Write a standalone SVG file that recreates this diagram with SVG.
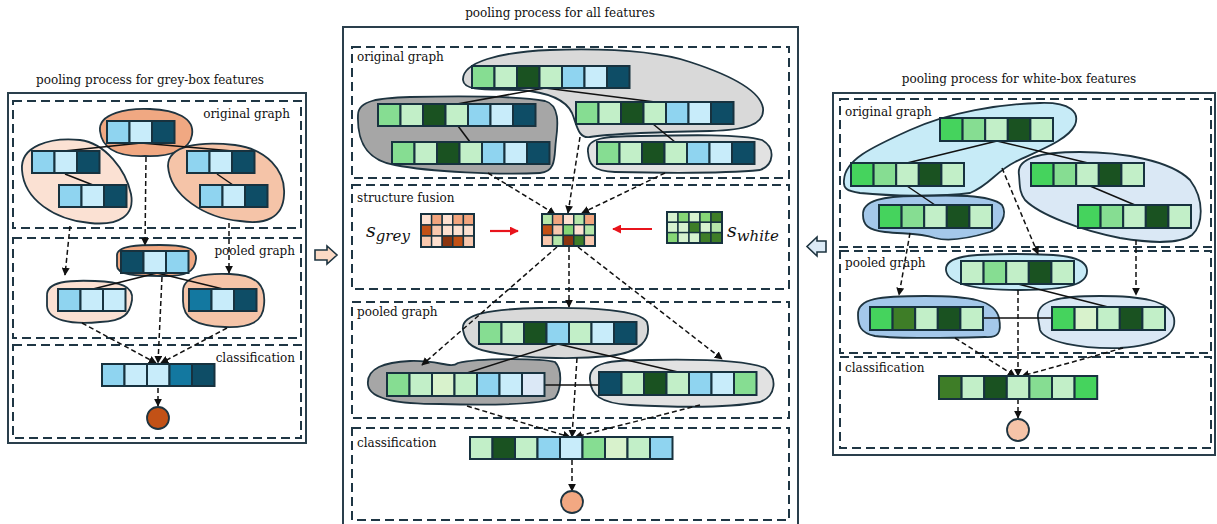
<svg xmlns="http://www.w3.org/2000/svg" xmlns:xlink="http://www.w3.org/1999/xlink" width="1217" height="524" viewBox="0 0 1217 524">
  <style>
    .title { font-family: "DejaVu Serif", "Liberation Serif", serif; font-size: 12px; fill: #111; }
    .lbl { font-family: "DejaVu Serif", "Liberation Serif", serif; font-size: 12px; fill: #111; }
    .math { font-family: "DejaVu Serif", "Liberation Serif", serif; font-style: italic; fill: #111; }
    .panel { fill: none; stroke: #2a3f4c; stroke-width: 2; }
    .box { fill: none; stroke: #1f3644; stroke-width: 2; stroke-dasharray: 9 5; }
    .blob { stroke: #1e3440; stroke-width: 1.8; }
    .c { stroke: #17323f; stroke-width: 2; }
    .m { stroke: #17323f; stroke-width: 1.4; }
    .edge { stroke: #111; stroke-width: 1.5; fill: none; }
    .flow { stroke: #111; stroke-width: 1.5; fill: none; stroke-dasharray: 5 3; marker-end: url(#ah); }
    .red { stroke: #e8141c; stroke-width: 2.2; fill: none; marker-end: url(#ahr); }
    .b1 { fill: #8fd4f0; } .b2 { fill: #c8ecfa; } .b3 { fill: #0e4d66; } .b4 { fill: #1378a0; } .bx { fill: #dbe8f6; }
    .g1 { fill: #86dd92; } .g2 { fill: #c2efc8; } .g3 { fill: #1a5221; } .g4 { fill: #45d35d; } .g5 { fill: #3e7d27; } .g6 { fill: #d8f2cc; }
    .o1 { fill: #fde0d0; } .o2 { fill: #f2a57e; } .o3 { fill: #c25116; } .o4 { fill: #f8c8ae; } .o5 { fill: #8a3510; }
    .w1 { fill: #b5e6a8; } .w2 { fill: #86d676; } .w3 { fill: #3e7d27; } .w4 { fill: #d6f2cf; }
    .pDark { fill: #f0a882; } .pMid { fill: #f5c4a8; } .pLight { fill: #fbe1d3; }
    .gDark { fill: #a6a6a6; } .gMid { fill: #d9d9d9; } .gLight { fill: #e2e2e2; }
    .uSky { fill: #c7ebf7; } .uMid { fill: #a4c8ea; } .uPale { fill: #dae8f5; }
  </style>
  <defs>
    <marker id="ah" viewBox="0 0 10 10" refX="9" refY="5" markerWidth="8" markerHeight="8" markerUnits="userSpaceOnUse" orient="auto">
      <path d="M0,0 L10,5 L0,10 z" fill="#111"/>
    </marker>
    <marker id="ahr" viewBox="0 0 10 10" refX="9" refY="5" markerWidth="9" markerHeight="9" markerUnits="userSpaceOnUse" orient="auto">
      <path d="M0,0 L10,5 L0,10 z" fill="#e8141c"/>
    </marker>
    <!-- three-cell blue feature vector -->
    <g id="vecBlue3">
      <rect class="c b1" x="0" y="0" width="22.5" height="22"/>
      <rect class="c b2" x="22.5" y="0" width="22.5" height="22"/>
      <rect class="c b3" x="45" y="0" width="22.5" height="22"/>
    </g>
    <!-- seven-cell mixed feature vector -->
    <g id="vecMix7">
      <rect class="c g1" x="0" y="0" width="22.5" height="22"/>
      <rect class="c g2" x="22.5" y="0" width="22.5" height="22"/>
      <rect class="c g3" x="45" y="0" width="22.5" height="22"/>
      <rect class="c g2" x="67.5" y="0" width="22.5" height="22"/>
      <rect class="c b1" x="90" y="0" width="22.5" height="22"/>
      <rect class="c b2" x="112.5" y="0" width="22.5" height="22"/>
      <rect class="c b3" x="135" y="0" width="22.5" height="22"/>
    </g>
    <!-- five-cell green feature vector -->
    <g id="vecGreen5">
      <rect class="c g4" x="0" y="0" width="22.6" height="23"/>
      <rect class="c g1" x="22.6" y="0" width="22.6" height="23"/>
      <rect class="c g2" x="45.2" y="0" width="22.6" height="23"/>
      <rect class="c g3" x="67.8" y="0" width="22.6" height="23"/>
      <rect class="c g2" x="90.4" y="0" width="22.6" height="23"/>
    </g>
  </defs>

  <rect width="1217" height="524" fill="#fff"/>

  <!-- panel titles -->
  <text class="title" x="150" y="84" text-anchor="middle">pooling process for grey-box features</text>
  <text class="title" x="560" y="17" text-anchor="middle">pooling process for all features</text>
  <text class="title" x="1019" y="83" text-anchor="middle">pooling process for white-box features</text>

  <!-- panel frames and stage boxes -->
  <g id="frames">
    <rect class="panel" x="8" y="93" width="298" height="350"/>
    <rect class="box" x="13" y="101" width="288" height="127"/>
    <rect class="box" x="13" y="238" width="288" height="100"/>
    <rect class="box" x="13" y="345" width="288" height="93"/>

    <rect class="panel" x="343" y="27" width="455" height="510"/>
    <rect class="box" x="352" y="47" width="437" height="131"/>
    <rect class="box" x="352" y="185" width="437" height="104"/>
    <rect class="box" x="352" y="302" width="437" height="116"/>
    <rect class="box" x="352" y="428" width="437" height="92"/>

    <rect class="panel" x="833" y="93" width="382" height="362"/>
    <rect class="box" x="840" y="99" width="371" height="148"/>
    <rect class="box" x="840" y="251" width="371" height="102"/>
    <rect class="box" x="840" y="357" width="371" height="91"/>
  </g>

  <!-- stage labels -->
  <g id="labels">
    <text class="lbl" x="290" y="118" text-anchor="end">original graph</text>
    <text class="lbl" x="295" y="255" text-anchor="end">pooled graph</text>
    <text class="lbl" x="295" y="362" text-anchor="end">classification</text>
    <text class="lbl" x="357" y="61">original graph</text>
    <text class="lbl" x="357" y="202">structure fusion</text>
    <text class="lbl" x="357" y="316">pooled graph</text>
    <text class="lbl" x="357" y="447">classification</text>
    <text class="lbl" x="845" y="116">original graph</text>
    <text class="lbl" x="845" y="267">pooled graph</text>
    <text class="lbl" x="845" y="372">classification</text>
  </g>

  <!-- transfer arrows between panels -->
  <path id="toAll" d="M315,250 L327,250 L327,246 L337,255 L327,264 L327,260 L315,260 Z" fill="#fbd9c4" stroke="#1e3440" stroke-width="1.6"/>
  <path id="fromWhite" d="M826,241 L817,241 L817,237 L807,246.5 L817,256 L817,252 L826,252 Z" fill="#dbeaf6" stroke="#1e3440" stroke-width="1.6"/>

  <!-- clusters (grey-box panel) -->
  <g id="grey-clusters">
    <path class="blob pDark" d="M100,131 C98,113 128,108 150,109 C176,110 195,118 192,135 C190,150 170,157 145,156 C116,157 102,148 100,131 Z"/>
    <path class="blob pLight" d="M22,170 C20,146 50,137 80,140 C105,143 126,170 131,194 C135,215 120,226 90,223 C55,220 24,200 22,170 Z"/>
    <path class="blob pMid" d="M168,166 C168,145 200,141 235,145 C266,149 286,170 284,195 C283,218 265,225 240,221 C205,218 170,196 168,166 Z"/>
    <path class="blob pDark" d="M117,256 C116,245 140,245 160,245 C182,245 197,247 196,259 C195,272 186,277 160,276 C136,276 117,275 117,266 Z"/>
    <path class="blob pLight" d="M47,296 C46,281 70,280 95,281 C120,282 134,286 132,300 C130,313 125,321 100,322 C70,325 48,320 47,306 Z"/>
    <path class="blob pMid" d="M183,291 C183,276 205,273 230,274 C258,275 266,286 264,305 C263,322 250,328 225,327 C195,326 183,318 183,301 Z"/>
  </g>

  <!-- clusters (all-features panel) -->
  <g id="all-clusters">
    <path class="blob gMid" d="M463,80 C462,62 500,52 550,50 C610,48 660,52 690,62 C730,75 760,90 763,108 C765,125 745,130 710,131 C660,132 615,133 590,137 C578,139 577,125 572,113 C565,98 545,92 520,90 C490,89 464,92 463,80 Z"/>
    <path class="blob gDark" d="M358,115 C358,100 380,98 410,97 C460,96 520,96 545,101 C560,105 558,125 556,140 C554,155 557,172 540,173 C500,175 430,172 395,165 C365,160 357,140 358,115 Z"/>
    <path class="blob gLight" d="M588,152 C586,138 605,136 640,136 C690,135 740,134 762,140 C776,148 774,165 760,170 C720,174 660,173 615,172 C592,171 589,164 588,152 Z"/>
    <path class="blob gMid" d="M463,330 C460,314 490,309 540,308 C590,307 640,310 647,322 C652,340 640,352 610,356 C570,360 520,358 490,352 C468,348 465,340 463,330 Z"/>
    <path class="blob gDark" d="M368,385 C366,368 385,362 410,361 C440,360 450,369 458,363 C478,358 540,358 555,362 C563,370 561,390 555,398 C540,405 480,405 440,404 C400,404 370,400 368,385 Z"/>
    <path class="blob gLight" d="M590,380 C588,362 610,360 650,360 C700,359 745,360 765,368 C778,378 776,396 760,402 C730,408 670,407 630,405 C600,403 591,395 590,380 Z"/>
  </g>

  <!-- clusters (white-box panel) -->
  <g id="white-clusters">
    <path class="blob uSky" d="M844,180 C845,160 870,148 910,130 C950,112 1000,104 1040,103 C1070,102 1080,112 1075,125 C1068,140 1040,150 1015,162 C995,172 990,185 970,193 C940,197 890,196 860,193 C846,191 843,188 844,180 Z"/>
    <path class="blob uMid" d="M863,215 C862,200 885,196 915,196 C950,195 990,194 1002,205 C1008,215 1000,228 990,232 C970,238 950,242 935,238 C920,233 905,234 885,232 C868,230 863,225 863,215 Z"/>
    <path class="blob uPale" d="M1019,175 C1016,158 1040,152 1080,152 C1120,152 1170,160 1190,180 C1205,200 1203,225 1192,235 C1180,244 1150,243 1120,238 C1080,230 1040,215 1025,200 C1019,192 1020,185 1019,175 Z"/>
    <path class="blob uSky" d="M946,270 C945,256 970,254 1015,254 C1060,254 1086,256 1087,270 C1088,284 1070,290 1020,290 C975,290 947,284 946,270 Z"/>
    <path class="blob uMid" d="M858,315 C857,298 880,296 925,296 C970,296 995,300 999,318 C1002,333 998,338 985,337 C950,338 900,339 875,336 C860,333 858,325 858,315 Z"/>
    <path class="blob uPale" d="M1038,318 C1036,300 1060,296 1100,296 C1140,296 1170,300 1174,318 C1177,335 1160,345 1120,348 C1080,349 1045,342 1040,330 Z"/>
  </g>

  <!-- connectors -->
  <g id="connectors">
    <!-- grey-box panel -->
    <line class="edge" x1="141" y1="143" x2="64" y2="151"/>
    <line class="edge" x1="141" y1="143" x2="233" y2="151"/>
    <line class="edge" x1="65" y1="174" x2="93" y2="185"/>
    <line class="edge" x1="217" y1="174" x2="233" y2="185"/>
    <line class="edge" x1="157" y1="273" x2="93" y2="289"/>
    <line class="edge" x1="157" y1="273" x2="223" y2="289"/>
    <line class="flow" x1="70" y1="226" x2="65" y2="275"/>
    <line class="flow" x1="146" y1="157" x2="145" y2="245"/>
    <line class="flow" x1="229" y1="223" x2="229" y2="273"/>
    <line class="flow" x1="82" y1="323" x2="156" y2="363"/>
    <line class="flow" x1="162" y1="277" x2="158" y2="363"/>
    <line class="flow" x1="227" y1="328" x2="161" y2="363"/>
    <line class="flow" x1="158" y1="388" x2="158" y2="406"/>

    <!-- all-features panel -->
    <line class="edge" x1="545" y1="88" x2="457" y2="104"/>
    <line class="edge" x1="545" y1="88" x2="655" y2="102"/>
    <line class="edge" x1="458" y1="126" x2="470" y2="142"/>
    <line class="edge" x1="653" y1="124" x2="675" y2="142"/>
    <line class="edge" x1="558" y1="344" x2="467" y2="373"/>
    <line class="edge" x1="558" y1="344" x2="678" y2="372"/>
    <line class="edge" x1="545" y1="385" x2="599" y2="385"/>
    <line class="flow" x1="488" y1="173" x2="555" y2="214"/>
    <line class="flow" x1="580" y1="137" x2="568" y2="213"/>
    <line class="flow" x1="665" y1="173" x2="582" y2="213"/>
    <line class="flow" x1="557" y1="247" x2="422" y2="365"/>
    <line class="flow" x1="569" y1="247" x2="569" y2="307"/>
    <line class="flow" x1="578" y1="247" x2="722" y2="359"/>
    <line class="flow" x1="467" y1="406" x2="570" y2="437"/>
    <line class="flow" x1="577" y1="358" x2="572" y2="437"/>
    <line class="flow" x1="700" y1="405" x2="575" y2="437"/>
    <line class="flow" x1="572" y1="460" x2="572" y2="491"/>
    <line class="red" x1="490" y1="231" x2="518" y2="231"/>
    <line class="red" x1="652" y1="229" x2="613" y2="229"/>

    <!-- white-box panel -->
    <line class="edge" x1="997" y1="141" x2="907" y2="163"/>
    <line class="edge" x1="997" y1="141" x2="1088" y2="163"/>
    <line class="edge" x1="907" y1="186" x2="935" y2="205"/>
    <line class="edge" x1="1090" y1="186" x2="1135" y2="205"/>
    <line class="edge" x1="1018" y1="284" x2="1108" y2="307"/>
    <line class="edge" x1="984" y1="318" x2="1052" y2="318"/>
    <line class="flow" x1="910" y1="233" x2="899" y2="295"/>
    <line class="flow" x1="1002" y1="168" x2="1038" y2="254"/>
    <line class="flow" x1="1136" y1="240" x2="1136" y2="295"/>
    <line class="flow" x1="955" y1="338" x2="1015" y2="376"/>
    <line class="flow" x1="1018" y1="290" x2="1018" y2="376"/>
    <line class="flow" x1="1123" y1="348" x2="1022" y2="376"/>
    <line class="flow" x1="1018" y1="399" x2="1018" y2="418"/>
  </g>

  <!-- grey-box feature vectors -->
  <g id="grey-nodes">
    <use xlink:href="#vecBlue3" x="107" y="121"/>
    <use xlink:href="#vecBlue3" x="32" y="151"/>
    <use xlink:href="#vecBlue3" x="59" y="185"/>
    <use xlink:href="#vecBlue3" x="187" y="151"/>
    <use xlink:href="#vecBlue3" x="200" y="185"/>
    <g id="grey-pooled-top">
      <rect class="c b3" x="121" y="251" width="22.5" height="22"/>
      <rect class="c b2" x="143.5" y="251" width="22.5" height="22"/>
      <rect class="c b1" x="166" y="251" width="22.5" height="22"/>
    </g>
    <g id="grey-pooled-left">
      <rect class="c b1" x="58" y="289" width="22.5" height="22"/>
      <rect class="c b2" x="80.5" y="289" width="22.5" height="22"/>
      <rect class="c b2" x="103" y="289" width="22.5" height="22"/>
    </g>
    <g id="grey-pooled-right">
      <rect class="c b4" x="189" y="289" width="22.5" height="22"/>
      <rect class="c b2" x="211.5" y="289" width="22.5" height="22"/>
      <rect class="c b3" x="234" y="289" width="22.5" height="22"/>
    </g>
    <g id="grey-readout">
      <rect class="c b1" x="102" y="364" width="22.5" height="22"/>
      <rect class="c b2" x="124.5" y="364" width="22.5" height="22"/>
      <rect class="c b2" x="147" y="364" width="22.5" height="22"/>
      <rect class="c b4" x="169.5" y="364" width="22.5" height="22"/>
      <rect class="c b3" x="192" y="364" width="22.5" height="22"/>
    </g>
    <circle id="grey-output" cx="158" cy="418" r="11" fill="#c25116" stroke="#1e3440" stroke-width="1.8"/>
  </g>

  <!-- all-features vectors -->
  <g id="all-nodes">
    <use xlink:href="#vecMix7" x="472" y="66"/>
    <use xlink:href="#vecMix7" x="576" y="102"/>
    <use xlink:href="#vecMix7" x="378" y="104"/>
    <use xlink:href="#vecMix7" x="392" y="142"/>
    <use xlink:href="#vecMix7" x="597" y="142"/>
    <g id="all-pooled-top">
      <rect class="c g1" x="479" y="322" width="22.5" height="22"/>
      <rect class="c g2" x="501.5" y="322" width="22.5" height="22"/>
      <rect class="c g3" x="524" y="322" width="22.5" height="22"/>
      <rect class="c b1" x="546.5" y="322" width="22.5" height="22"/>
      <rect class="c g2" x="569" y="322" width="22.5" height="22"/>
      <rect class="c b2" x="591.5" y="322" width="22.5" height="22"/>
      <rect class="c b3" x="614" y="322" width="22.5" height="22"/>
    </g>
    <g id="all-pooled-left">
      <rect class="c g1" x="387" y="373" width="22.5" height="23"/>
      <rect class="c g2" x="409.5" y="373" width="22.5" height="23"/>
      <rect class="c g6" x="432" y="373" width="22.5" height="23"/>
      <rect class="c g2" x="454.5" y="373" width="22.5" height="23"/>
      <rect class="c b1" x="477" y="373" width="22.5" height="23"/>
      <rect class="c b2" x="499.5" y="373" width="22.5" height="23"/>
      <rect class="c bx" x="522" y="373" width="22.5" height="23"/>
    </g>
    <g id="all-pooled-right">
      <rect class="c b3" x="599" y="372" width="22.5" height="23"/>
      <rect class="c g2" x="621.5" y="372" width="22.5" height="23"/>
      <rect class="c g3" x="644" y="372" width="22.5" height="23"/>
      <rect class="c g2" x="666.5" y="372" width="22.5" height="23"/>
      <rect class="c b1" x="689" y="372" width="22.5" height="23"/>
      <rect class="c b2" x="711.5" y="372" width="22.5" height="23"/>
      <rect class="c g1" x="734" y="372" width="22.5" height="23"/>
    </g>
    <g id="all-readout">
      <rect class="c g2" x="470" y="437" width="22.5" height="22"/>
      <rect class="c g3" x="492.5" y="437" width="22.5" height="22"/>
      <rect class="c g2" x="515" y="437" width="22.5" height="22"/>
      <rect class="c b1" x="537.5" y="437" width="22.5" height="22"/>
      <rect class="c b2" x="560" y="437" width="22.5" height="22"/>
      <rect class="c g1" x="582.5" y="437" width="22.5" height="22"/>
      <rect class="c g6" x="605" y="437" width="22.5" height="22"/>
      <rect class="c g2" x="627.5" y="437" width="22.5" height="22"/>
      <rect class="c b1" x="650" y="437" width="22.5" height="22"/>
    </g>
    <circle id="all-output" cx="572" cy="502" r="11" fill="#f2a882" stroke="#1e3440" stroke-width="1.8"/>
  </g>

  <!-- structure matrices -->
  <g id="s-grey">
    <rect class="m o1" x="421" y="214" width="10.6" height="11"/>
    <rect class="m o2" x="431.6" y="214" width="10.6" height="11"/>
    <rect class="m o1" x="442.2" y="214" width="10.6" height="11"/>
    <rect class="m o2" x="452.8" y="214" width="10.6" height="11"/>
    <rect class="m o2" x="463.4" y="214" width="10.6" height="11"/>
    <rect class="m o3" x="421" y="225" width="10.6" height="11"/>
    <rect class="m o4" x="431.6" y="225" width="10.6" height="11"/>
    <rect class="m o1" x="442.2" y="225" width="10.6" height="11"/>
    <rect class="m o1" x="452.8" y="225" width="10.6" height="11"/>
    <rect class="m o1" x="463.4" y="225" width="10.6" height="11"/>
    <rect class="m o4" x="421" y="236" width="10.6" height="11"/>
    <rect class="m o1" x="431.6" y="236" width="10.6" height="11"/>
    <rect class="m o5" x="442.2" y="236" width="10.6" height="11"/>
    <rect class="m o3" x="452.8" y="236" width="10.6" height="11"/>
    <rect class="m o4" x="463.4" y="236" width="10.6" height="11"/>
    <rect x="421" y="214" width="53" height="33" fill="none" stroke="#17323f" stroke-width="2"/>
    <text class="math" x="366" y="237" font-size="19">s<tspan font-size="15" dy="4">grey</tspan></text>
  </g>

  <g id="s-fused">
    <rect class="m w1" x="542" y="214" width="10.6" height="10.7"/>
    <rect class="m o2" x="552.6" y="214" width="10.6" height="10.7"/>
    <rect class="m o1" x="563.2" y="214" width="10.6" height="10.7"/>
    <rect class="m w1" x="573.8" y="214" width="10.6" height="10.7"/>
    <rect class="m o2" x="584.4" y="214" width="10.6" height="10.7"/>
    <rect class="m o3" x="542" y="224.7" width="10.6" height="10.7"/>
    <rect class="m o4" x="552.6" y="224.7" width="10.6" height="10.7"/>
    <rect class="m w2" x="563.2" y="224.7" width="10.6" height="10.7"/>
    <rect class="m o1" x="573.8" y="224.7" width="10.6" height="10.7"/>
    <rect class="m w1" x="584.4" y="224.7" width="10.6" height="10.7"/>
    <rect class="m o4" x="542" y="235.4" width="10.6" height="10.7"/>
    <rect class="m w1" x="552.6" y="235.4" width="10.6" height="10.7"/>
    <rect class="m o5" x="563.2" y="235.4" width="10.6" height="10.7"/>
    <rect class="m w3" x="573.8" y="235.4" width="10.6" height="10.7"/>
    <rect class="m o4" x="584.4" y="235.4" width="10.6" height="10.7"/>
    <rect x="542" y="214" width="53" height="32" fill="none" stroke="#17323f" stroke-width="2"/>
  </g>

  <g id="s-white">
    <rect class="m w4" x="667" y="212" width="11" height="10.3"/>
    <rect class="m w2" x="678" y="212" width="11" height="10.3"/>
    <rect class="m w4" x="689" y="212" width="11" height="10.3"/>
    <rect class="m w2" x="700" y="212" width="11" height="10.3"/>
    <rect class="m w3" x="711" y="212" width="11" height="10.3"/>
    <rect class="m w4" x="667" y="222.3" width="11" height="10.3"/>
    <rect class="m w4" x="678" y="222.3" width="11" height="10.3"/>
    <rect class="m w3" x="689" y="222.3" width="11" height="10.3"/>
    <rect class="m w4" x="700" y="222.3" width="11" height="10.3"/>
    <rect class="m w1" x="711" y="222.3" width="11" height="10.3"/>
    <rect class="m w2" x="667" y="232.6" width="11" height="10.3"/>
    <rect class="m w4" x="678" y="232.6" width="11" height="10.3"/>
    <rect class="m w4" x="689" y="232.6" width="11" height="10.3"/>
    <rect class="m w3" x="700" y="232.6" width="11" height="10.3"/>
    <rect class="m w3" x="711" y="232.6" width="11" height="10.3"/>
    <rect x="667" y="212" width="55" height="31" fill="none" stroke="#17323f" stroke-width="2"/>
    <text class="math" x="727" y="237" font-size="19">s<tspan font-size="15" dy="4">white</tspan></text>
  </g>

  <!-- white-box feature vectors -->
  <g id="white-nodes">
    <use xlink:href="#vecGreen5" x="940" y="118"/>
    <use xlink:href="#vecGreen5" x="851" y="163"/>
    <use xlink:href="#vecGreen5" x="879" y="205"/>
    <use xlink:href="#vecGreen5" x="1031" y="163"/>
    <use xlink:href="#vecGreen5" x="1078" y="205"/>
    <g id="white-pooled-top">
      <rect class="c g2" x="961" y="261" width="22.6" height="23"/>
      <rect class="c g1" x="983.6" y="261" width="22.6" height="23"/>
      <rect class="c g2" x="1006.2" y="261" width="22.6" height="23"/>
      <rect class="c g3" x="1028.8" y="261" width="22.6" height="23"/>
      <rect class="c g2" x="1051.4" y="261" width="22.6" height="23"/>
    </g>
    <g id="white-pooled-left">
      <rect class="c g4" x="870" y="307" width="22.6" height="23"/>
      <rect class="c g5" x="892.6" y="307" width="22.6" height="23"/>
      <rect class="c g2" x="915.2" y="307" width="22.6" height="23"/>
      <rect class="c g3" x="937.8" y="307" width="22.6" height="23"/>
      <rect class="c g2" x="960.4" y="307" width="22.6" height="23"/>
    </g>
    <g id="white-pooled-right">
      <rect class="c g4" x="1052" y="307" width="22.6" height="23"/>
      <rect class="c g6" x="1074.6" y="307" width="22.6" height="23"/>
      <rect class="c g2" x="1097.2" y="307" width="22.6" height="23"/>
      <rect class="c g3" x="1119.8" y="307" width="22.6" height="23"/>
      <rect class="c g2" x="1142.4" y="307" width="22.6" height="23"/>
    </g>
    <g id="white-readout">
      <rect class="c g5" x="939" y="376" width="22.6" height="23"/>
      <rect class="c g2" x="961.6" y="376" width="22.6" height="23"/>
      <rect class="c g3" x="984.2" y="376" width="22.6" height="23"/>
      <rect class="c g2" x="1006.8" y="376" width="22.6" height="23"/>
      <rect class="c g1" x="1029.4" y="376" width="22.6" height="23"/>
      <rect class="c g2" x="1052" y="376" width="22.6" height="23"/>
      <rect class="c g4" x="1074.6" y="376" width="22.6" height="23"/>
    </g>
    <circle id="white-output" cx="1018" cy="430" r="11" fill="#f5c4a8" stroke="#1e3440" stroke-width="1.8"/>
  </g>
</svg>
